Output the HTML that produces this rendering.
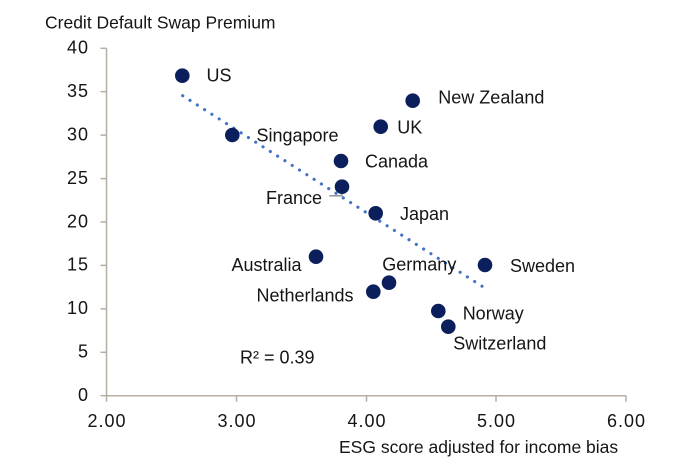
<!DOCTYPE html>
<html>
<head>
<meta charset="utf-8">
<style>
html,body{margin:0;padding:0;background:#fff;}
svg{display:block;}
text{font-family:"Liberation Sans",Arial,sans-serif;fill:#151515;}
</style>
</head>
<body>
<svg width="681" height="467" viewBox="0 0 681 467" xmlns="http://www.w3.org/2000/svg">
  <rect width="681" height="467" fill="#fff"/>
  <text x="45" y="28.5" font-size="17.5">Credit Default Swap Premium</text>

  <g stroke="#b5afa3" stroke-width="1.5" fill="none">
    <line x1="106.5" y1="48.3" x2="106.5" y2="395.7"/>
    <line x1="106.5" y1="395.7" x2="626" y2="395.7"/>
    <line x1="100.5" y1="48.3" x2="106.5" y2="48.3"/>
    <line x1="100.5" y1="91.7" x2="106.5" y2="91.7"/>
    <line x1="100.5" y1="135.1" x2="106.5" y2="135.1"/>
    <line x1="100.5" y1="178.6" x2="106.5" y2="178.6"/>
    <line x1="100.5" y1="222" x2="106.5" y2="222"/>
    <line x1="100.5" y1="265.4" x2="106.5" y2="265.4"/>
    <line x1="100.5" y1="308.9" x2="106.5" y2="308.9"/>
    <line x1="100.5" y1="352.3" x2="106.5" y2="352.3"/>
    <line x1="100.5" y1="395.7" x2="106.5" y2="395.7"/>
    <line x1="106.5" y1="395.7" x2="106.5" y2="401.7"/>
    <line x1="236.5" y1="395.7" x2="236.5" y2="401.7"/>
    <line x1="366.5" y1="395.7" x2="366.5" y2="401.7"/>
    <line x1="496" y1="395.7" x2="496" y2="401.7"/>
    <line x1="626" y1="395.7" x2="626" y2="401.7"/>
  </g>

  <g font-size="18" text-anchor="end" letter-spacing="1">
    <text x="89" y="53.5">40</text>
    <text x="89" y="97">35</text>
    <text x="89" y="140.5">30</text>
    <text x="89" y="184">25</text>
    <text x="89" y="227.3">20</text>
    <text x="89" y="270.7">15</text>
    <text x="89" y="314.2">10</text>
    <text x="89" y="357.6">5</text>
    <text x="89" y="401">0</text>
  </g>

  <g font-size="18" text-anchor="middle" letter-spacing="1">
    <text x="107" y="427">2.00</text>
    <text x="237" y="427">3.00</text>
    <text x="367" y="427">4.00</text>
    <text x="496.5" y="427">5.00</text>
    <text x="626.5" y="427">6.00</text>
  </g>

  <text x="339" y="453" font-size="17.5">ESG score adjusted for income bias</text>

  <line x1="182.7" y1="95.7" x2="482.1" y2="286.25" stroke="#4472c4" stroke-width="3.2" stroke-linecap="round" stroke-dasharray="0.01 8.6432"/>

  <g stroke="#9a9a9a" stroke-width="1.6">
    <line x1="329.3" y1="195.8" x2="342" y2="195.8"/>
    <line x1="342" y1="186" x2="342" y2="196.5"/>
  </g>

  <g fill="#0b1f5c">
    <circle cx="182.3" cy="75.7" r="7.3"/>
    <circle cx="232.3" cy="135" r="7.3"/>
    <circle cx="412.7" cy="100.7" r="7.3"/>
    <circle cx="380.7" cy="126.7" r="7.3"/>
    <circle cx="341" cy="161" r="7.3"/>
    <circle cx="342" cy="186.7" r="7.3"/>
    <circle cx="375.7" cy="213.3" r="7.3"/>
    <circle cx="316" cy="256.7" r="7.3"/>
    <circle cx="389" cy="282.7" r="7.3"/>
    <circle cx="373.3" cy="291.7" r="7.3"/>
    <circle cx="485" cy="265" r="7.3"/>
    <circle cx="438.3" cy="311" r="7.3"/>
    <circle cx="448.3" cy="326.7" r="7.3"/>
  </g>

  <g font-size="18">
    <text x="206.5" y="81.5">US</text>
    <text x="256.5" y="141.5">Singapore</text>
    <text x="438.3" y="103.3">New Zealand</text>
    <text x="397.3" y="133.3">UK</text>
    <text x="365" y="167.5">Canada</text>
    <text x="266" y="204">France</text>
    <text x="400" y="220">Japan</text>
    <text x="231.5" y="271">Australia</text>
    <text x="382.3" y="270.5">Germany</text>
    <text x="256.5" y="301.5">Netherlands</text>
    <text x="510" y="272">Sweden</text>
    <text x="462.7" y="319.5">Norway</text>
    <text x="453.3" y="349.5">Switzerland</text>
    <text x="240" y="363.5">R² = 0.39</text>
  </g>
</svg>
</body>
</html>
